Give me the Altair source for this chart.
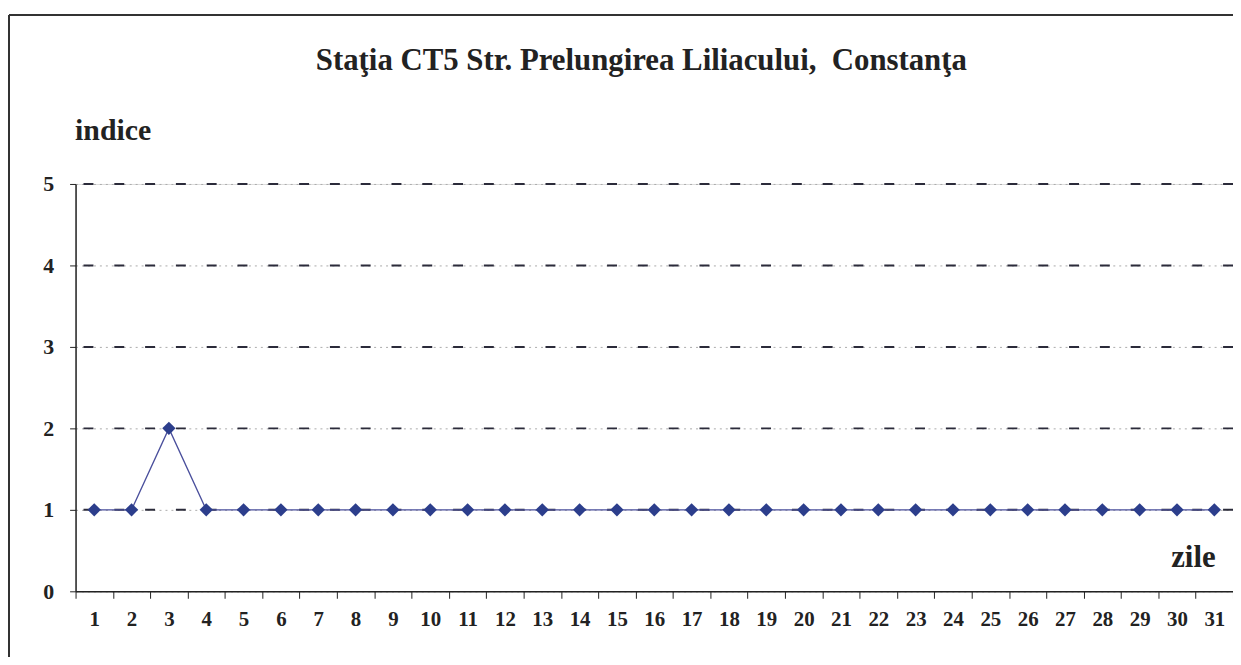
import altair as alt
import pandas as pd

days = list(range(1, 32))
indice = [1, 1, 2] + [1] * 28
y_ticks = [0, 1, 2, 3, 4, 5]
grid_levels = [1, 2, 3, 4, 5]

df = pd.DataFrame({"zi": days, "indice": indice})
grid_df = pd.DataFrame({"g": grid_levels})

FONT = "Liberation Serif"

x_enc = alt.X(
    "zi:O",
    scale=alt.Scale(type="band", paddingInner=0, paddingOuter=0),
    axis=alt.Axis(
        title="zile", titleX=1147, titleY=-25, titleAlign="right", titleBaseline="alphabetic",
        titleFont=FONT, titleFontSize=31, titleFontWeight="bold", titleColor="#222",
        labelFont=FONT, labelFontSize=21, labelFontWeight="bold", labelColor="#222",
        labelAngle=0, labelPadding=10, tickBand="extent", tickSize=7, tickColor="#222",
        domainColor="#222", domainWidth=1.5, grid=False,
    ),
)
y_enc = alt.Y(
    "indice:Q",
    scale=alt.Scale(domain=[0, 5], nice=False),
    axis=alt.Axis(
        values=y_ticks, format="d",
        title="indice", titleAngle=0, titleX=-1, titleY=-45, titleAlign="left", titleBaseline="alphabetic",
        titleFont=FONT, titleFontSize=30, titleFontWeight="bold", titleColor="#222",
        labelFont=FONT, labelFontSize=22, labelFontWeight="bold", labelColor="#222",
        labelPadding=16, tickSize=6, tickColor="#222",
        domainColor="#222", domainWidth=1.5,
        grid=True, gridColor="#aaaaaa", gridDash=[2, 4], gridWidth=1,
    ),
)

grid_dark = alt.Chart(grid_df).mark_rule(color="#2b2b3a", strokeWidth=2, strokeDash=[10, 21]).encode(
    y=alt.Y("g:Q", scale=alt.Scale(domain=[0, 5], nice=False)),
)

line = alt.Chart(df).mark_line(color="#4a4f9c", strokeWidth=1.3).encode(x=x_enc, y=y_enc)
pts = alt.Chart(df).mark_point(shape="diamond", filled=True, size=180, color="#2c3e8c", opacity=1).encode(
    x="zi:O", y="indice:Q"
)

frame_v = alt.Chart(df).mark_rule(color="#333", strokeWidth=1.5).encode(
    x=alt.value(-67), y=alt.value(-170), y2=alt.value(490)
)
frame_h = alt.Chart(df).mark_rule(color="#333", strokeWidth=1.5).encode(
    x=alt.value(-67), x2=alt.value(1170), y=alt.value(-170)
)

chart = alt.layer(grid_dark, line, pts, frame_v, frame_h).properties(
    width=1165,
    height=410,
    autosize=alt.AutoSizeParams(type="none"),
    padding={"left": 68, "top": 175, "right": 0, "bottom": 64},
    title=alt.TitleParams(
        "Staţia CT5 Str. Prelungirea Liliacului,\u00a0 Constanţa",
        font=FONT, fontSize=31, fontWeight="bold", color="#222",
        anchor="middle", frame="group", offset=-63, dx=-13,
    ),
).configure_view(stroke=None).configure(background="white")

chart.save("out.html", embed_options={"renderer": "svg", "actions": False})
